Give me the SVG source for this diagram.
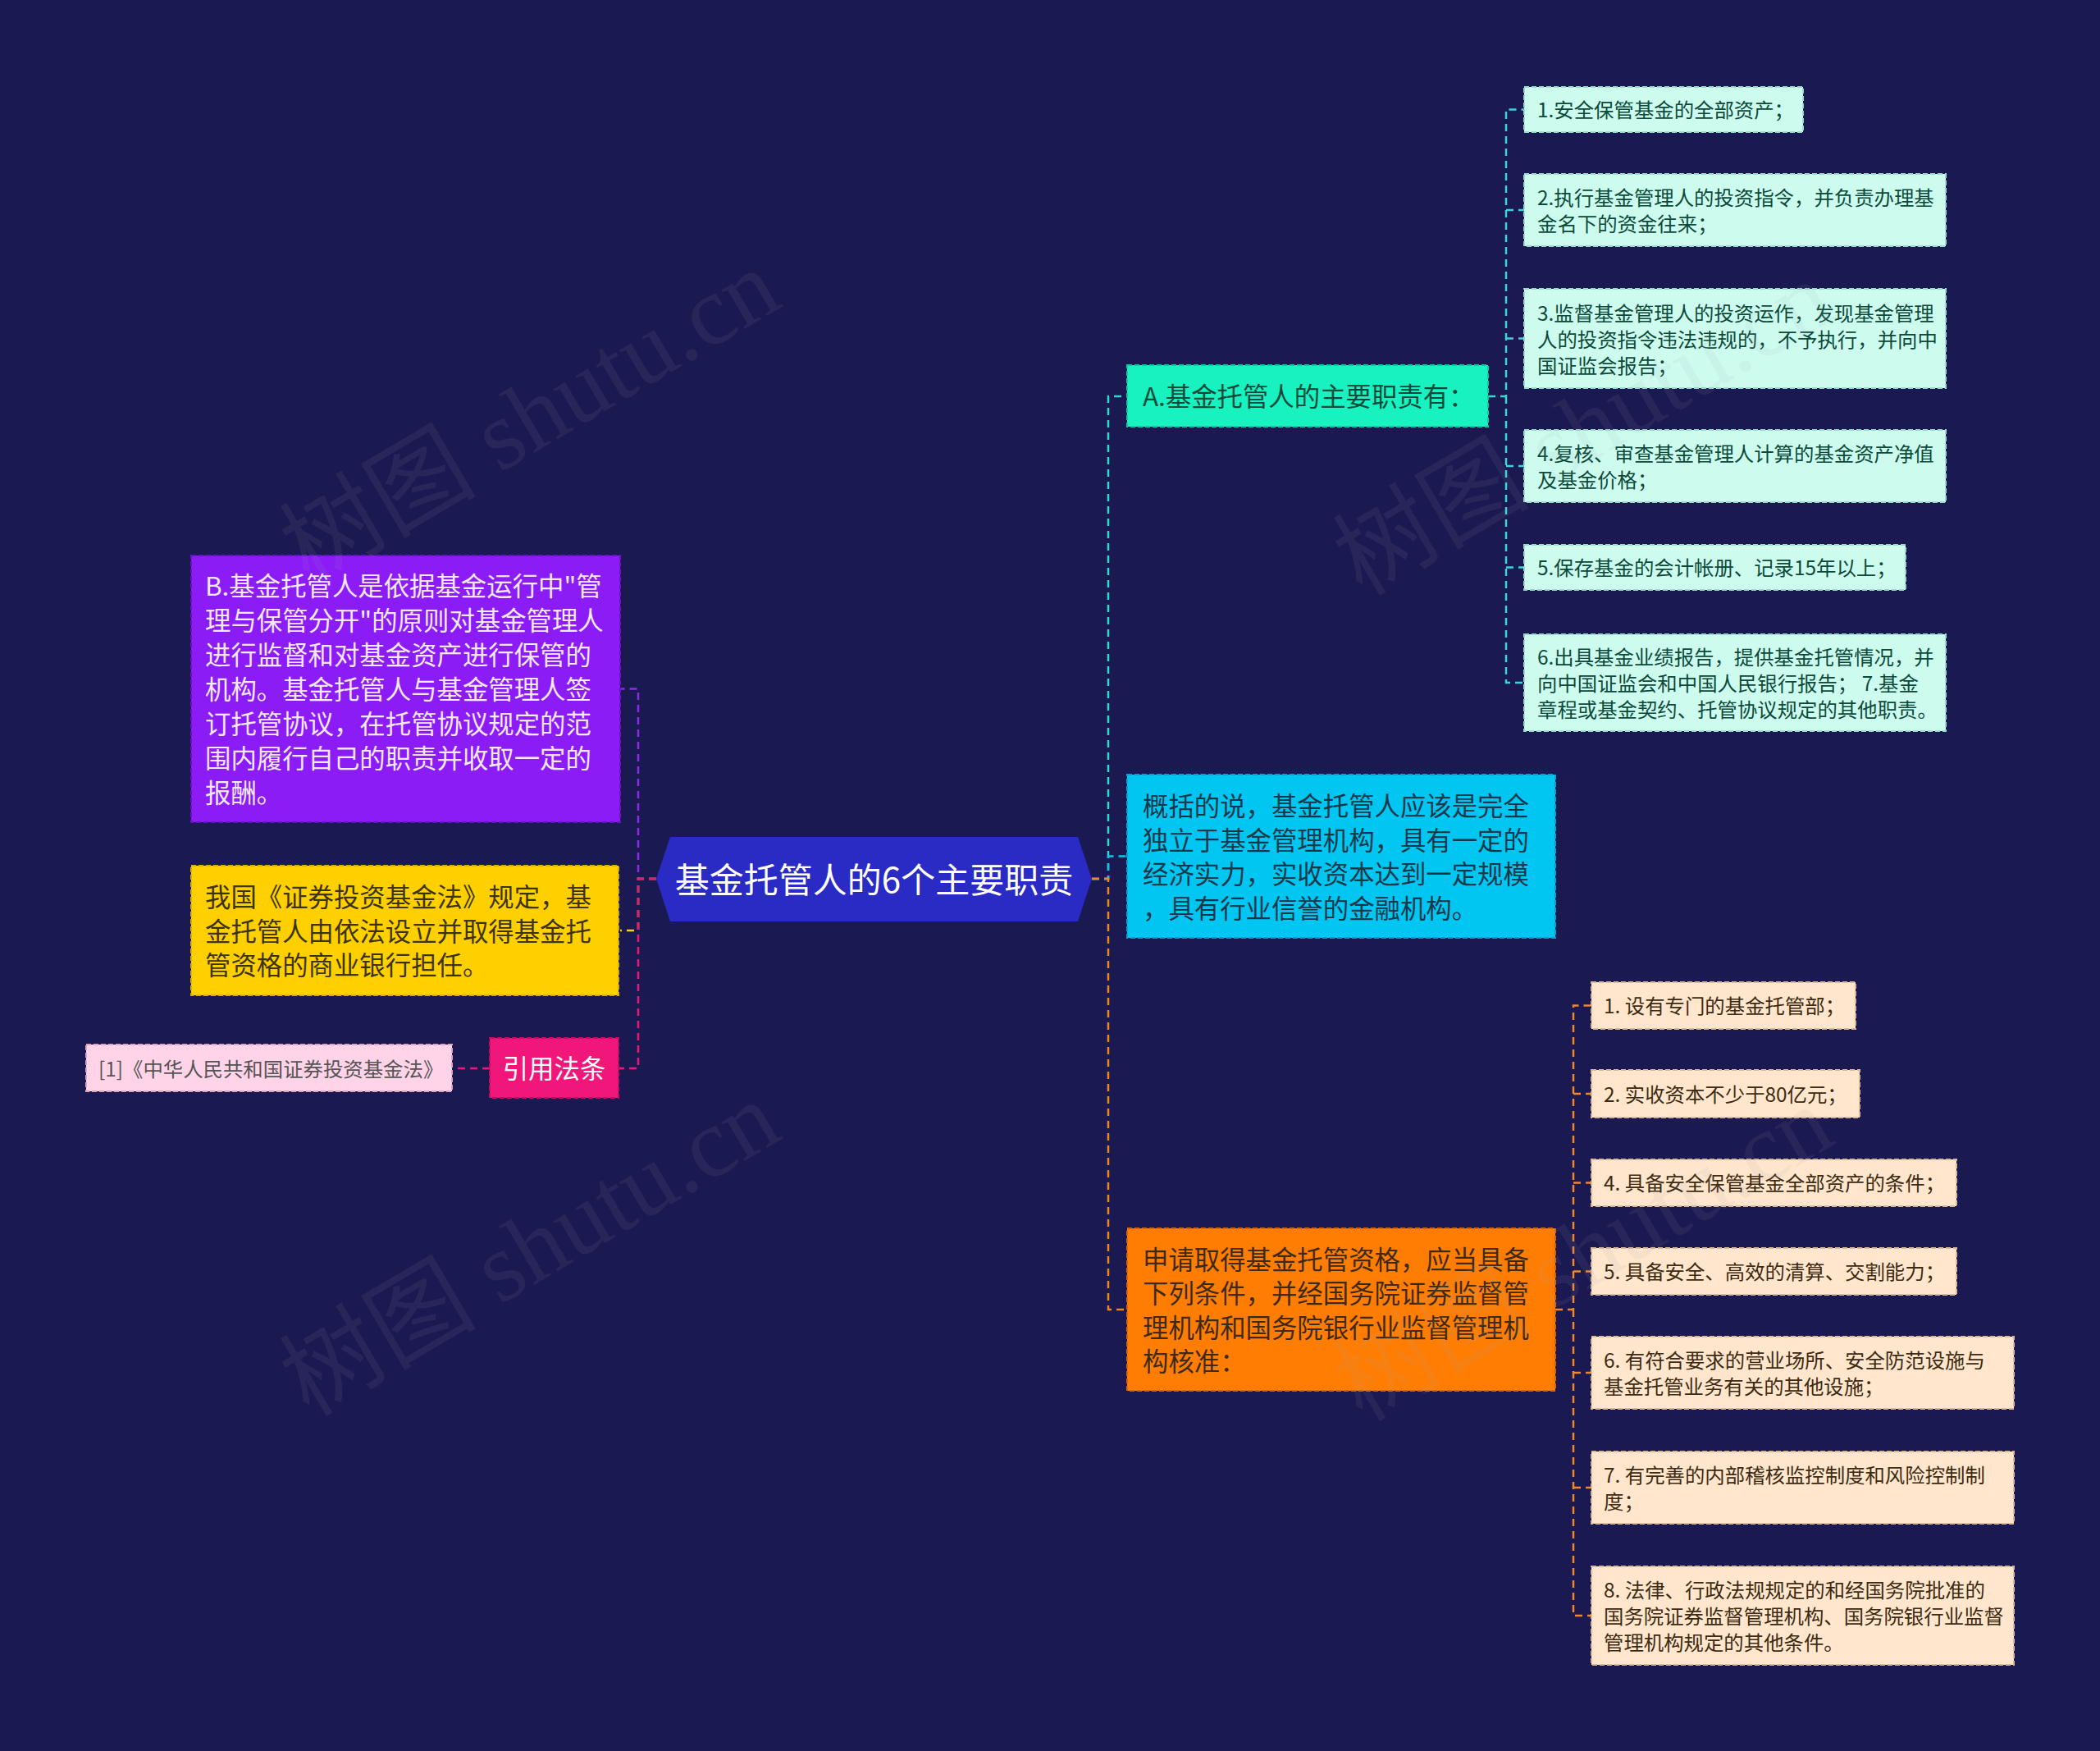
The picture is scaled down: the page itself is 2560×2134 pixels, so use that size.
<svg xmlns="http://www.w3.org/2000/svg" width="2560" height="2134" viewBox="0 0 2560 2134">
<style>
text{font-family:"Noto Sans CJK SC","Noto Sans",sans-serif;dominant-baseline:central}
.c{fill:none;stroke-width:2.5;stroke-dasharray:9 6}
.box{stroke-width:2;stroke-dasharray:6 3}
.t24{font-size:24.4px}
.t31{font-size:31.4px}
.wm{font-family:"Liberation Serif","Noto Sans CJK SC",serif;font-size:120px;fill:#a0a0b4;opacity:0.09;text-anchor:middle}
</style>
<rect width="2560" height="2134" fill="#1b1951"/>
<g id="connectors">
<path class="c" stroke="#2fd9d0" d="M1331,1071H1351V483H1373"/>
<path class="c" stroke="#12c3ef" d="M1331,1071H1351V1043.5H1373"/>
<path class="c" stroke="#f0871a" d="M1331,1071H1351V1596H1373"/>
<path class="c" stroke="#8a2be6" d="M800,1071H778V839.5H756"/>
<path class="c" stroke="#ffd000" d="M800,1071H778V1134H756"/>
<path class="c" stroke="#e8187a" d="M800,1071H778V1302H754"/>
<path class="c" stroke="#e8187a" d="M597,1302H552"/>
<path class="c" stroke="#3ad6d6" d="M1814,483H1836V133.5H1858M1836,256H1858M1836,412.5H1858M1836,568H1858M1836,691.5H1858M1836,483V832H1858"/>
<path class="c" stroke="#f0872a" d="M1896,1596H1918V1225.5H1940M1918,1333H1940M1918,1441.5H1940M1918,1549.5H1940M1918,1673H1940M1918,1813H1940M1918,1596V1969H1940"/>
</g>
<g id="root">
<polygon points="800,1071 817,1020 1314,1020 1331,1071 1314,1123 817,1123" fill="#2a2ac4"/>
<text x="1065.5" y="1069" font-size="42" fill="#ffffff" text-anchor="middle">基金托管人的6个主要职责</text>
</g>
<g id="nodeA">
<rect class="box" x="1374" y="445" width="440" height="75" fill="#17f2c0" stroke="#0fc99e"/>
<text class="t31" x="1393" y="481.5" fill="#0b4a3a">A.基金托管人的主要职责有：</text>
</g>
<g id="a1">
<rect class="box" x="1858" y="106" width="340" height="55" fill="#cdfcef" stroke="#9ad8c8"/>
<text class="t24" x="1874" y="132.5" fill="#0b4a3a">1.安全保管基金的全部资产；</text>
</g>
<g id="a2">
<rect class="box" x="1858" y="212" width="514" height="88" fill="#cdfcef" stroke="#9ad8c8"/>
<text class="t24" fill="#0b4a3a"><tspan x="1874" y="239">2.执行基金管理人的投资指令，并负责办理基</tspan><tspan x="1874" y="271">金名下的资金往来；</tspan></text>
</g>
<g id="a3">
<rect class="box" x="1858" y="352" width="514" height="121" fill="#cdfcef" stroke="#9ad8c8"/>
<text class="t24" fill="#0b4a3a"><tspan x="1874" y="379.5">3.监督基金管理人的投资运作，发现基金管理</tspan><tspan x="1874" y="411.5">人的投资指令违法违规的，不予执行，并向中</tspan><tspan x="1874" y="443.5">国证监会报告；</tspan></text>
</g>
<g id="a4">
<rect class="box" x="1858" y="524" width="514" height="88" fill="#cdfcef" stroke="#9ad8c8"/>
<text class="t24" fill="#0b4a3a"><tspan x="1874" y="551">4.复核、审查基金管理人计算的基金资产净值</tspan><tspan x="1874" y="583">及基金价格；</tspan></text>
</g>
<g id="a5">
<rect class="box" x="1858" y="664" width="465" height="55" fill="#cdfcef" stroke="#9ad8c8"/>
<text class="t24" x="1874" y="690.5" fill="#0b4a3a">5.保存基金的会计帐册、记录15年以上；</text>
</g>
<g id="a6">
<rect class="box" x="1858" y="773" width="514" height="118" fill="#cdfcef" stroke="#9ad8c8"/>
<text class="t24" fill="#0b4a3a"><tspan x="1874" y="799">6.出具基金业绩报告，提供基金托管情况，并</tspan><tspan x="1874" y="831">向中国证监会和中国人民银行报告； 7.基金</tspan><tspan x="1874" y="863">章程或基金契约、托管协议规定的其他职责。</tspan></text>
</g>
<g id="nodeSummary">
<rect class="box" x="1374" y="944" width="522" height="199" fill="#02c6f2" stroke="#0aa2cc"/>
<text class="t31" fill="#12384a"><tspan x="1393" y="980">概括的说，基金托管人应该是完全</tspan><tspan x="1393" y="1021.5">独立于基金管理机构，具有一定的</tspan><tspan x="1393" y="1063">经济实力，实收资本达到一定规模</tspan><tspan x="1393" y="1104.5">，具有行业信誉的金融机构。</tspan></text>
</g>
<g id="nodeApply">
<rect class="box" x="1374" y="1497" width="522" height="198" fill="#ff7d02" stroke="#d86400"/>
<text class="t31" fill="#3d2a12"><tspan x="1393" y="1532.5">申请取得基金托管资格，应当具备</tspan><tspan x="1393" y="1574">下列条件，并经国务院证券监督管</tspan><tspan x="1393" y="1615.5">理机构和国务院银行业监督管理机</tspan><tspan x="1393" y="1657">构核准：</tspan></text>
</g>
<g id="c1">
<rect class="box" x="1940" y="1197" width="322" height="57" fill="#ffe6cc" stroke="#d8b896"/>
<text class="t24" x="1955" y="1224.5" fill="#3d2a12">1. 设有专门的基金托管部；</text>
</g>
<g id="c2">
<rect class="box" x="1940" y="1304" width="327" height="58" fill="#ffe6cc" stroke="#d8b896"/>
<text class="t24" x="1955" y="1332" fill="#3d2a12">2. 实收资本不少于80亿元；</text>
</g>
<g id="c4">
<rect class="box" x="1940" y="1413" width="445" height="57" fill="#ffe6cc" stroke="#d8b896"/>
<text class="t24" x="1955" y="1440.5" fill="#3d2a12">4. 具备安全保管基金全部资产的条件；</text>
</g>
<g id="c5">
<rect class="box" x="1940" y="1521" width="445" height="57" fill="#ffe6cc" stroke="#d8b896"/>
<text class="t24" x="1955" y="1548.5" fill="#3d2a12">5. 具备安全、高效的清算、交割能力；</text>
</g>
<g id="c6">
<rect class="box" x="1940" y="1629" width="515" height="88" fill="#ffe6cc" stroke="#d8b896"/>
<text class="t24" fill="#3d2a12"><tspan x="1955" y="1656">6. 有符合要求的营业场所、安全防范设施与</tspan><tspan x="1955" y="1688">基金托管业务有关的其他设施；</tspan></text>
</g>
<g id="c7">
<rect class="box" x="1940" y="1769" width="515" height="88" fill="#ffe6cc" stroke="#d8b896"/>
<text class="t24" fill="#3d2a12"><tspan x="1955" y="1796">7. 有完善的内部稽核监控制度和风险控制制</tspan><tspan x="1955" y="1828">度；</tspan></text>
</g>
<g id="c8">
<rect class="box" x="1940" y="1909" width="515" height="120" fill="#ffe6cc" stroke="#d8b896"/>
<text class="t24" fill="#3d2a12"><tspan x="1955" y="1936">8. 法律、行政法规规定的和经国务院批准的</tspan><tspan x="1955" y="1968">国务院证券监督管理机构、国务院银行业监督</tspan><tspan x="1955" y="2000">管理机构规定的其他条件。</tspan></text>
</g>
<g id="nodeB">
<rect class="box" x="233" y="677" width="523" height="325" fill="#8b1cf6" stroke="#6a10c8"/>
<text class="t31" fill="#f6e8ff"><tspan x="250" y="712">B.基金托管人是依据基金运行中"管</tspan><tspan x="250" y="754">理与保管分开"的原则对基金管理人</tspan><tspan x="250" y="796">进行监督和对基金资产进行保管的</tspan><tspan x="250" y="838">机构。基金托管人与基金管理人签</tspan><tspan x="250" y="880">订托管协议，在托管协议规定的范</tspan><tspan x="250" y="922">围内履行自己的职责并收取一定的</tspan><tspan x="250" y="964">报酬。</tspan></text>
</g>
<g id="nodeLaw">
<rect class="box" x="233" y="1055" width="521" height="158" fill="#ffd000" stroke="#d8ae00"/>
<text class="t31" fill="#3d3300"><tspan x="250" y="1091">我国《证券投资基金法》规定，基</tspan><tspan x="250" y="1132.5">金托管人由依法设立并取得基金托</tspan><tspan x="250" y="1174">管资格的商业银行担任。</tspan></text>
</g>
<g id="nodeCite">
<rect class="box" x="597" y="1265" width="157" height="73" fill="#f0167a" stroke="#c80a60"/>
<text class="t31" x="675.5" y="1300.5" fill="#ffffff" text-anchor="middle">引用法条</text>
</g>
<g id="nodeCiteItem">
<rect class="box" x="105" y="1273" width="446" height="57" fill="#ffd3e8" stroke="#d8a8c0"/>
<text class="t24" x="120" y="1301" fill="#555555">[1]《中华人民共和国证券投资基金法》</text>
</g>
<g id="watermarks">
<text class="wm" transform="translate(646,508) rotate(-30.5)">树图 shutu.cn</text>
<text class="wm" transform="translate(1930,522) rotate(-30.5)">树图 shutu.cn</text>
<text class="wm" transform="translate(646,1522) rotate(-30.5)">树图 shutu.cn</text>
<text class="wm" transform="translate(1930,1528) rotate(-30.5)">树图 shutu.cn</text>
</g>
</svg>
